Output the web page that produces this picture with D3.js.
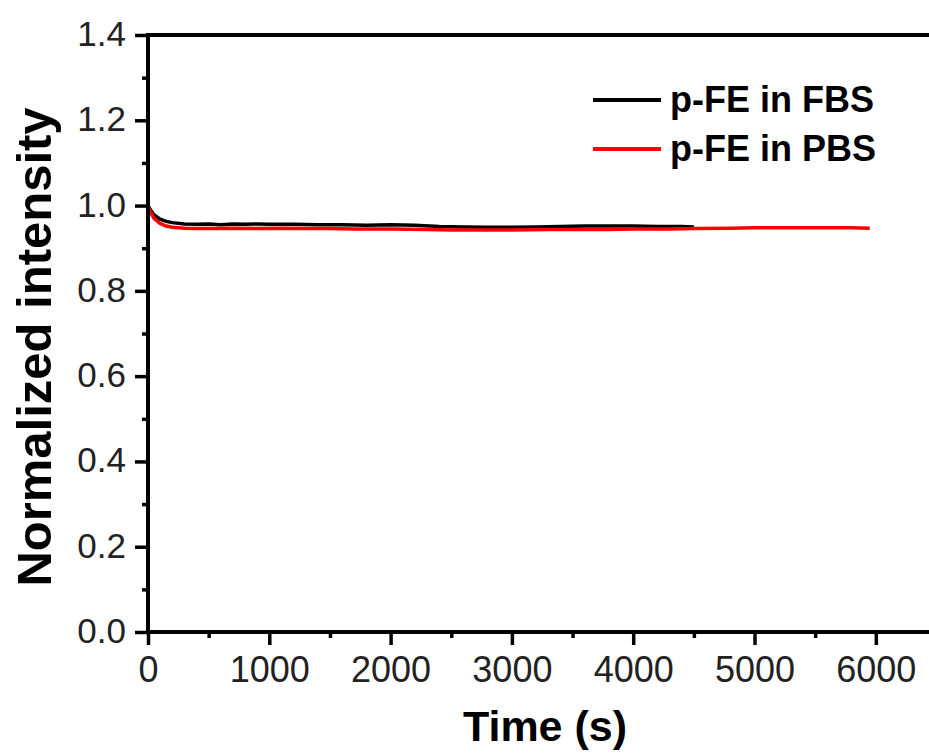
<!DOCTYPE html>
<head>
  <meta charset="utf-8">
  <script src="https://cdn.jsdelivr.net/npm/d3@7"></script>
  <style>
    body { margin:0; background:#fff; }
    svg { display:block; }
    text { font-family: "Liberation Sans", Arial, sans-serif; }
  </style>
</head>
<body>
  <script>
    // size of the picture
    var width = 929;
    var height = 754;

    // time (s) and normalized intensity
    var fbsTime  = [0, 20, 50, 100, 150, 200, 300, 400, 500, 600, 700, 800, 900, 1000, 1200, 1400, 1600, 1800, 2000, 2200, 2400, 2600, 2800, 3000, 3200, 3400, 3600, 3800, 4000, 4200, 4400, 4500];
    var fbsValue = [1.000, 0.990, 0.978, 0.968, 0.963, 0.960, 0.957, 0.956, 0.957, 0.955, 0.957, 0.956, 0.957, 0.956, 0.956, 0.955, 0.955, 0.954, 0.955, 0.954, 0.951, 0.950, 0.949, 0.949, 0.950, 0.951, 0.952, 0.952, 0.952, 0.951, 0.951, 0.950];

    var pbsTime  = [0, 20, 50, 100, 150, 200, 300, 400, 500, 700, 900, 1100, 1300, 1500, 1700, 2000, 2300, 2500, 2800, 3000, 3300, 3500, 3800, 4000, 4300, 4500, 4800, 5000, 5300, 5500, 5800, 5950];
    var pbsValue = [1.000, 0.985, 0.970, 0.958, 0.952, 0.949, 0.947, 0.946, 0.946, 0.947, 0.946, 0.947, 0.946, 0.946, 0.945, 0.945, 0.944, 0.943, 0.943, 0.943, 0.944, 0.944, 0.944, 0.945, 0.945, 0.946, 0.947, 0.948, 0.948, 0.948, 0.948, 0.947];

    var xMajor = [0, 1000, 2000, 3000, 4000, 5000, 6000];
    var xMinor = [500, 1500, 2500, 3500, 4500, 5500, 6500];
    var yMajor = [0, 0.2, 0.4, 0.6, 0.8, 1.0, 1.2, 1.4];
    var yMinor = [0.1, 0.3, 0.5, 0.7, 0.9, 1.1, 1.3];

    var seriesNames = ["p-FE in FBS", "p-FE in PBS"];
    var seriesColors = ["#000000", "#ff0000"];

    var svg = d3.select("body").append("svg")
      .attr("width", width)
      .attr("height", height);

    // plot box  (don't call it "top", that is window.top)
    var plotLeft = 148, plotTop = 35, plotBottom = 632;
    var x = d3.scaleLinear().domain([0, 6500]).range([plotLeft, plotLeft + 121.3 * 6.5]);
    var y = d3.scaleLinear().domain([0, 1.4]).range([plotBottom, plotTop]);

    var line = d3.line()
      .x(function (d) { return x(d[0]); })
      .y(function (d) { return y(d[1]); });

    var fbs = fbsTime.map(function (t, i) { return [t, fbsValue[i]]; });
    var pbs = pbsTime.map(function (t, i) { return [t, pbsValue[i]]; });

    svg.append("path").datum(fbs)
      .attr("d", line)
      .attr("fill", "none")
      .attr("stroke", seriesColors[0])
      .attr("stroke-width", 3.5);

    svg.append("path").datum(pbs)
      .attr("d", line)
      .attr("fill", "none")
      .attr("stroke", seriesColors[1])
      .attr("stroke-width", 3.5);

    // axes
    var xAxis = svg.append("g").attr("transform", "translate(0," + plotBottom + ")")
      .call(d3.axisBottom(x).tickValues(xMajor).tickSize(13).tickFormat(d3.format("d")));
    svg.append("g").attr("transform", "translate(0," + plotBottom + ")")
      .call(d3.axisBottom(x).tickValues(xMinor).tickSize(6).tickFormat(""));

    var yAxis = svg.append("g").attr("transform", "translate(" + plotLeft + ",0)")
      .call(d3.axisLeft(y).tickValues(yMajor).tickSize(13).tickFormat(d3.format(".1f")));
    svg.append("g").attr("transform", "translate(" + plotLeft + ",0)")
      .call(d3.axisLeft(y).tickValues(yMinor).tickSize(6).tickFormat(""));

    svg.selectAll(".domain").remove();
    svg.selectAll(".tick line").attr("stroke", "#000").attr("stroke-width", 3.5);

    xAxis.selectAll(".tick text")
      .attr("y", 50).attr("dy", 0)
      .attr("font-size", 36)
      .attr("fill", "#222")
      .attr("font-family", "Liberation Sans, Arial, sans-serif");

    yAxis.selectAll(".tick text")
      .attr("x", -22).attr("dy", "0.3em")
      .attr("font-size", 35)
      .attr("fill", "#222")
      .attr("font-family", "Liberation Sans, Arial, sans-serif");

    // frame lines: left, bottom, top
    svg.append("line").attr("x1", plotLeft).attr("x2", plotLeft).attr("y1", plotTop - 2).attr("y2", plotBottom + 2)
      .attr("stroke", "#000").attr("stroke-width", 4);
    svg.append("line").attr("x1", plotLeft - 2).attr("x2", width).attr("y1", plotBottom).attr("y2", plotBottom)
      .attr("stroke", "#000").attr("stroke-width", 4);
    svg.append("line").attr("x1", plotLeft - 2).attr("x2", width).attr("y1", plotTop).attr("y2", plotTop)
      .attr("stroke", "#000").attr("stroke-width", 4);

    // axis titles
    svg.append("text")
      .attr("x", 545).attr("y", 741)
      .attr("text-anchor", "middle")
      .attr("font-size", 43).attr("font-weight", "bold")
      .text("Time (s)");

    svg.append("text")
      .attr("transform", "translate(51,347) rotate(-90)")
      .attr("text-anchor", "middle")
      .attr("font-size", 49).attr("font-weight", "bold")
      .text("Normalized intensity");

    // legend
    var legend = svg.append("g");
    seriesNames.forEach(function (name, i) {
      var ly = 100 + i * 49;
      legend.append("line")
        .attr("x1", 593).attr("x2", 661).attr("y1", ly).attr("y2", ly)
        .attr("stroke", seriesColors[i]).attr("stroke-width", 4);
      legend.append("text")
        .attr("x", 670).attr("y", ly + 12)
        .attr("font-size", 36).attr("font-weight", "bold")
        .text(name);
    });
  </script>
</body>
</html>
